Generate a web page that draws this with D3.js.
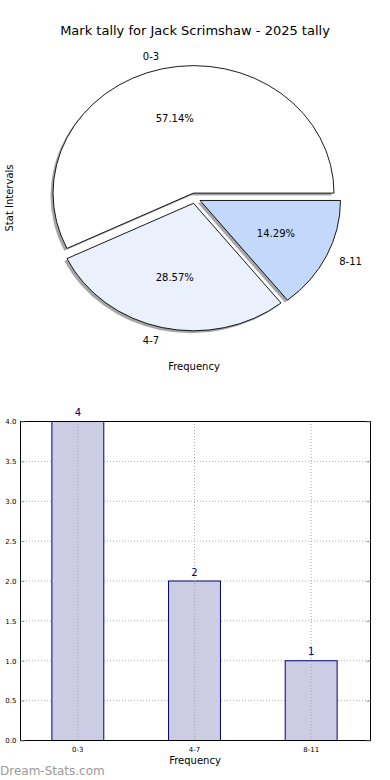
<!DOCTYPE html>
<html>
<head>
<meta charset="utf-8">
<script src="https://cdn.jsdelivr.net/npm/d3@7"></script>
<style>
  html, body { margin: 0; padding: 0; background: #fff; }
  svg { display: block; font-family: "DejaVu Sans", sans-serif; }
</style>
</head>
<body>
<svg id="chart" width="390" height="780"></svg>
<script>
const title = "Mark tally for Jack Scrimshaw - 2025 tally";
const categories = ["0-3", "4-7", "8-11"];
const counts = [4, 2, 1];
const percentLabels = ["57.14%", "28.57%", "14.29%"];
const sliceColors = ["#ffffff", "#eaf1fd", "#c4d8fc"];
const yTicks = [0.0, 0.5, 1.0, 1.5, 2.0, 2.5, 3.0, 3.5, 4.0];

(function () {
const svg = d3.select("#chart");

// ---------- Pie ----------
const cx = 194.8, cy = 198.2, rx = 140.5, ry = 127.5, explode = 0.041;
svg.append("text").attr("x", 195).attr("y", 35).attr("text-anchor", "middle")
  .attr("font-size", 13).attr("fill", "#000").text(title);

const pie = d3.pie().sort(null).startAngle(Math.PI / 2).endAngle(Math.PI / 2 - 2 * Math.PI);
const arcs = pie(counts);
const arcGen = d3.arc().innerRadius(0).outerRadius(1);
const pieG = svg.append("g");

arcs.forEach((a, i) => {
  const mid = (a.startAngle + a.endAngle) / 2;
  const ox = cx + explode * rx * Math.sin(mid);
  const oy = cy - explode * ry * Math.cos(mid);
  // shadow
  pieG.append("path").attr("d", arcGen(a))
    .attr("transform", `translate(${ox - 2.5},${oy + 2.4}) scale(${rx},${ry})`)
    .attr("fill", "#4d4d4d").attr("fill-opacity", 0.5).attr("stroke", "none");
  // wedge
  pieG.append("path").attr("d", arcGen(a))
    .attr("transform", `translate(${ox},${oy}) scale(${rx},${ry})`)
    .attr("fill", sliceColors[i]).attr("stroke", "#000").attr("stroke-width", 0.9)
    .attr("vector-effect", "non-scaling-stroke").attr("stroke-linejoin", "miter");
  a.ox = ox; a.oy = oy; a.mid = mid;
});
arcs.forEach((a, i) => {
  const s = Math.sin(a.mid), c = -Math.cos(a.mid);
  const lx = a.ox + 1.1 * rx * s, ly = a.oy + 1.1 * ry * c;
  pieG.append("text").attr("x", lx).attr("y", ly).attr("dy", "0.35em")
    .attr("text-anchor", s < 0 ? "end" : "start").attr("font-size", 10).text(categories[i]);
  const px = a.ox + 0.6 * rx * s, py = a.oy + 0.6 * ry * c;
  pieG.append("text").attr("x", px).attr("y", py).attr("dy", "0.35em")
    .attr("text-anchor", "middle").attr("font-size", 10).text(percentLabels[i]);
});
svg.append("text").attr("x", 194).attr("y", 370).attr("text-anchor", "middle")
  .attr("font-size", 10).text("Frequency");
svg.append("text").attr("transform", "translate(13,198) rotate(-90)").attr("text-anchor", "middle")
  .attr("font-size", 10).text("Stat Intervals");

// ---------- Bar chart ----------
const bLeft = 20, bRight = 370, bTop = 421, bBottom = 740;
const x = d3.scaleBand().domain(categories).range([bLeft, bRight]).paddingInner(0.555).paddingOuter(0.2775);
const y = d3.scaleLinear().domain([0, 4]).range([bBottom, bTop]);
const barG = svg.append("g");

// grid
barG.selectAll(".hgrid").data(yTicks).join("line")
  .attr("x1", bLeft).attr("x2", bRight).attr("y1", d => y(d) + 0.5).attr("y2", d => y(d) + 0.5)
  .attr("stroke", "#b0b0b0").attr("stroke-width", 1).attr("stroke-dasharray", "1,2");

// bars
barG.selectAll(".bar").data(counts).join("rect")
  .attr("x", (d, i) => x(categories[i]) - 0.5).attr("width", x.bandwidth())
  .attr("y", d => y(d) + 0.5).attr("height", d => bBottom - y(d))
  .attr("fill", "#cccce5").attr("stroke", "#000080").attr("stroke-width", 1);

// vertical grid (drawn over bars)
barG.selectAll(".vgrid").data(categories).join("line")
  .attr("x1", d => x(d) + x.bandwidth() / 2 - 0.5).attr("x2", d => x(d) + x.bandwidth() / 2 - 0.5)
  .attr("y1", bTop).attr("y2", bBottom)
  .attr("stroke", "#a8a8a8").attr("stroke-width", 1).attr("stroke-dasharray", "1,2");

// value labels
barG.selectAll(".val").data(counts).join("text")
  .attr("x", (d, i) => x(categories[i]) + x.bandwidth() / 2 - 0.5).attr("y", d => y(d) - 5)
  .attr("text-anchor", "middle").attr("font-size", 10).attr("fill", "#000080").text(d => d);

// axes box
barG.append("rect").attr("x", bLeft + 0.5).attr("y", bTop + 0.5).attr("width", bRight - bLeft)
  .attr("height", bBottom - bTop).attr("fill", "none").attr("stroke", "#000").attr("stroke-width", 1);

// y ticks
const yAxis = d3.axisLeft(y).tickValues(yTicks).tickFormat(d3.format(".1f")).tickSize(-4).tickPadding(4);
const yg = barG.append("g").attr("transform", `translate(${bLeft + 0.5},0.5)`).call(yAxis);
yg.select(".domain").remove();
yg.selectAll(".tick line").attr("stroke", "#999");
yg.selectAll("text").attr("font-size", 7).attr("font-family", "DejaVu Sans").attr("fill", "#000");
const yR = d3.axisRight(y).tickValues(yTicks).tickFormat("").tickSize(-4);
const yrg = barG.append("g").attr("transform", `translate(${bRight + 0.5},0.5)`).call(yR);
yrg.select(".domain").remove();
yrg.selectAll(".tick line").attr("stroke", "#999");

// x ticks
const xAxis = d3.axisBottom(x).tickSize(0).tickPadding(7);
const xg = barG.append("g").attr("transform", `translate(-0.5,${bBottom})`).call(xAxis);
xg.select(".domain").remove();
xg.selectAll("text").attr("font-size", 7).attr("font-family", "DejaVu Sans").attr("fill", "#000");

svg.append("text").attr("x", 195).attr("y", 764).attr("text-anchor", "middle")
  .attr("font-size", 10).text("Frequency");

svg.append("text").attr("x", 0).attr("y", 775).attr("font-size", 12)
  .attr("fill", "#9a9a9a").attr("font-family", "DejaVu Sans")
  .text("Dream-Stats.com");
})();
</script>
</body>
</html>
